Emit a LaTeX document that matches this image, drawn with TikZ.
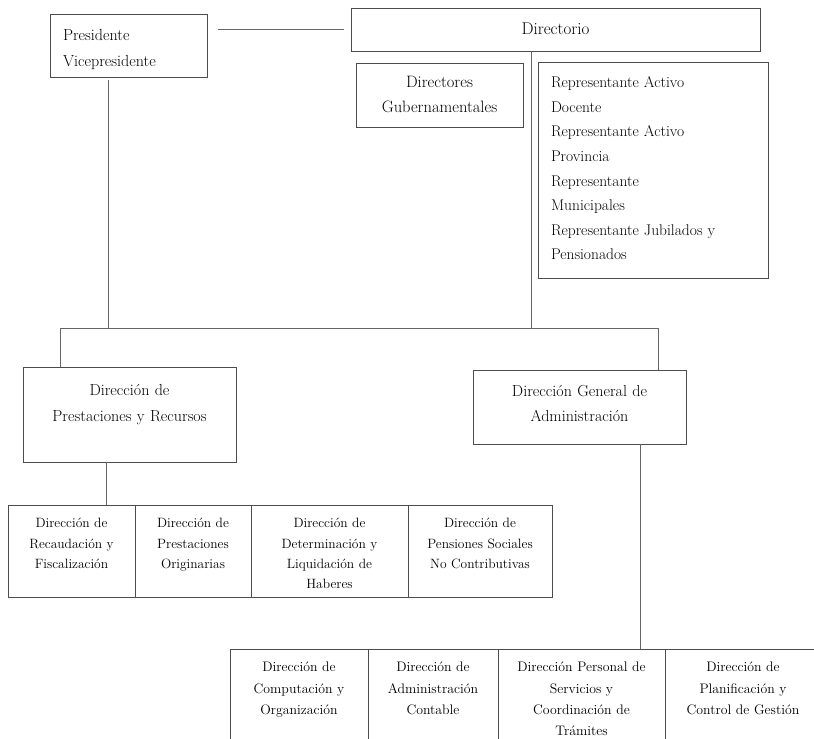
\documentclass[tikz,border=0pt]{standalone}
\usepackage{tikz}

\begin{document}
\begin{tikzpicture}[x=1pt,y=-1pt,
  unit/.style={draw=black!70,line width=0.9pt,inner sep=0pt,outer sep=0pt,anchor=north west,align=center,text=black},
  conn/.style={draw=black!60,line width=0.9pt},
  midbox/.style={unit,text height=22.7pt,text depth=69.3pt,font=\fontsize{13.5}{20.3}\selectfont},
  lowbox/.style={unit,text height=22.7pt,text depth=92pt,font=\fontsize{13.8}{21.3}\selectfont}]
  \useasboundingbox (0,0) rectangle (814,739);
  % upper level
  \node[unit,align=left,inner xsep=13pt,text width=131pt,text height=26pt,text depth=37pt,font=\fontsize{16}{26}\selectfont] (pres) at (50,14) {Presidente\\Vicepresidente};
  \node[unit,text width=409pt,text height=26.3pt,text depth=16.7pt,font=\fontsize{17}{26}\selectfont] (dir) at (351,8) {Directorio};
  \node[unit,text width=167pt,text height=24.7pt,text depth=39.3pt,font=\fontsize{16.5}{25}\selectfont] (gob) at (356,63) {Directores\\Gubernamentales};
  \node[unit,align=left,inner xsep=13pt,text width=204pt,text height=25.7pt,text depth=190.3pt,font=\fontsize{15.5}{24.6}\selectfont] (rep) at (538,62) {Representante Activo\\Docente\\Representante Activo\\Provincia\\Representante\\Municipales\\Representante Jubilados y\\Pensionados};
  \node[unit,text width=213pt,text height=28pt,text depth=67pt,font=\fontsize{16}{26}\selectfont] (dpr) at (23,367) {Dirección de\\Prestaciones y Recursos};
  \node[unit,text width=213pt,text height=26pt,text depth=48pt,font=\fontsize{16}{25}\selectfont] (dga) at (473,370) {Dirección General de\\Administración};
  % rows
  \node[midbox,text width=127pt] (rec) at (8,505) {Dirección de\\Recaudación y\\Fiscalización};
  \node[midbox,text width=116pt] (ori) at (rec.north east) {Dirección de\\Prestaciones\\Originarias};
  \node[midbox,text width=157pt] (det) at (ori.north east) {Dirección de\\Determinación y\\Liquidación de\\Haberes};
  \node[midbox,text width=144pt] (pen) at (det.north east) {Dirección de\\Pensiones Sociales\\No Contributivas};
  \node[lowbox,text width=138pt] (comp) at (230,649) {Dirección de\\Computación y\\Organización};
  \node[lowbox,text width=130pt] (cont) at (comp.north east) {Dirección de\\Administración\\Contable};
  \node[lowbox,text width=167pt] (pers) at (cont.north east) {Dirección Personal de\\Servicios y\\Coordinación de\\Trámites};
  \node[lowbox,text width=156pt] (plan) at (pers.north east) {Dirección de\\Planificación y\\Control de Gestión};
  % connectors
  \coordinate (busL) at (60,328); \coordinate (busR) at (658,328);
  \coordinate (busP) at (108.5,328); \coordinate (busD) at (531,328);
  \coordinate (tapA) at (106.5,505); \coordinate (tapB) at (640.5,649);
  \draw[conn,shorten <=7pt,shorten >=11pt] (dir.west) -- (pres.east |- dir.west);
  \draw[conn,shorten <=3pt] (busP |- pres.south) -- (busP);
  \draw[conn] (busD |- dir.south) -- (busD);
  \draw[conn] (busL |- dpr.north) -- (busL) -- (busR) -- (busR |- dga.north);
  \draw[conn] (tapA |- dpr.south) -- (tapA);
  \draw[conn] (tapB |- dga.south) -- (tapB);
\end{tikzpicture}
\end{document}
